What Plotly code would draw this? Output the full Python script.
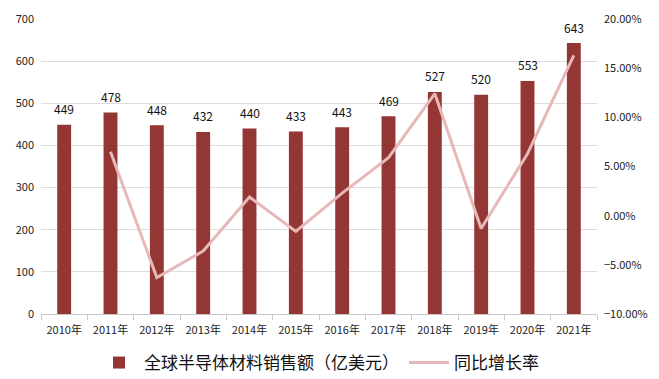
import plotly.graph_objects as go

years = ["2010年", "2011年", "2012年", "2013年", "2014年", "2015年",
         "2016年", "2017年", "2018年", "2019年", "2020年", "2021年"]
sales = [449, 478, 448, 432, 440, 433, 443, 469, 527, 520, 553, 643]
growth_years = years[1:]
growth = [6.5, -6.3, -3.6, 1.9, -1.6, 2.3, 5.9, 12.4, -1.3, 6.3, 16.3]

bar_name = "全球半导体材料销售额（亿美元）"
line_name = "同比增长率"

FONT = "Noto Sans CJK SC"

fig = go.Figure()
fig.add_trace(go.Bar(
    x=years, y=sales, name=bar_name,
    marker=dict(color="#943634", line=dict(width=0)),
    width=0.3,
))
fig.add_trace(go.Scatter(
    x=growth_years, y=growth, name=line_name, yaxis="y2",
    mode="lines", line=dict(color="#E6B9B8", width=3),
))

for yr, v in zip(years, sales):
    fig.add_annotation(
        x=yr, y=v, xref="x", yref="y", text=str(v), showarrow=False,
        yanchor="middle", yshift=16,
        font=dict(size=12, color="#111111", family=FONT),
    )

fig.update_layout(
    width=659, height=379,
    margin=dict(l=41, r=62, t=19, b=65, autoexpand=False),
    paper_bgcolor="white", plot_bgcolor="white",
    font=dict(family=FONT, size=11, color="#222222"),
    xaxis=dict(
        type="category", showgrid=False, showline=True, linecolor="#c8c8c8",
        ticks="outside", tickson="boundaries", ticklen=5, tickcolor="#c8c8c8",
        tickfont=dict(size=11, family=FONT), ticklabelstandoff=6,
    ),
    yaxis=dict(
        range=[0, 700], dtick=100, showgrid=True, gridcolor="#dddddd",
        zeroline=False, showline=False, tickfont=dict(size=11, family=FONT),
        ticklabelstandoff=6,
    ),
    yaxis2=dict(
        overlaying="y", side="right", range=[-10, 20], dtick=5,
        tickformat=".2f", ticksuffix="%", showgrid=False, zeroline=False,
        tickfont=dict(size=11, family=FONT), ticklabelstandoff=6,
    ),
    legend=dict(
        orientation="h", x=0.5, xanchor="center",
        yref="container", y=1 - 363 / 379, yanchor="middle",
        font=dict(size=17, family=FONT, color="#111111"),
        itemwidth=40, traceorder="normal",
    ),
    showlegend=True,
)

fig.write_html(
    "out.html",
    config={"displayModeBar": False},
    post_script="document.body.style.margin='0';document.body.style.overflow='hidden';",
)
